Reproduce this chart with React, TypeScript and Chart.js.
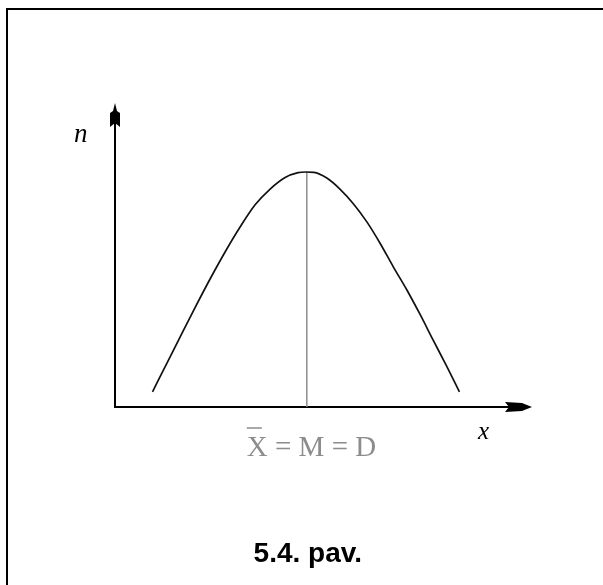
import { useEffect, useRef } from "react";
import { Chart, registerables } from "chart.js";

Chart.register(...registerables);

// Frequency curve of a symmetric distribution (x: variable value, n: frequency)
const curveX = [9.0, 12.0, 15.6, 19.2, 22.8, 26.4, 30.0, 33.6, 37.2, 40.8, 43.9, 45.8, 47.7, 50.8, 54.0, 57.2, 60.4, 63.6, 66.7, 70.0, 73.1, 76.3, 79.5, 82.6];
const curveY = [5.0, 13.2, 23.0, 32.7, 42.1, 51.0, 59.2, 66.5, 71.7, 75.5, 77.1, 77.3, 77.2, 75.3, 71.6, 66.8, 60.9, 53.8, 46.2, 38.5, 30.6, 22.0, 13.5, 5.0];

// Mean = median = mode position and its height on the curve
const centerX = [46.0, 46.0];
const centerY = [0, 77.3];

const axisRange = [0, 100];

const yLabel = "n";
const xLabel = "x";
const centerLabel = "X = M = D";
const caption = "5.4. pav.";

const decor = {
  id: "decor",
  beforeDatasetsDraw(chart: any) {
    const { ctx } = chart;
    const xs = chart.scales.x;
    const ys = chart.scales.y;
    const x0 = xs.getPixelForValue(axisRange[0]);
    const x1 = xs.getPixelForValue(axisRange[1]);
    const y0 = ys.getPixelForValue(axisRange[0]);
    const y1 = ys.getPixelForValue(axisRange[1]);
    ctx.save();
    ctx.strokeStyle = "#000";
    ctx.fillStyle = "#000";
    ctx.lineWidth = 2;
    ctx.beginPath();
    ctx.moveTo(x0 - 1, y0);
    ctx.lineTo(x1 - 12, y0);
    ctx.moveTo(x0, y0 + 1);
    ctx.lineTo(x0, y1 + 12);
    ctx.stroke();

    // arrow on the x axis
    ctx.beginPath();
    ctx.moveTo(x1, y0);
    ctx.lineTo(x1 - 10, y0 - 4);
    ctx.lineTo(x1 - 27, y0 - 5);
    ctx.lineTo(x1 - 23, y0);
    ctx.lineTo(x1 - 27, y0 + 5);
    ctx.lineTo(x1 - 10, y0 + 4);
    ctx.closePath();
    ctx.fill();

    // arrow on the y axis
    ctx.beginPath();
    ctx.moveTo(x0, y1);
    ctx.lineTo(x0 + 2, y1 + 8);
    ctx.lineTo(x0 + 5, y1 + 10);
    ctx.lineTo(x0 + 5, y1 + 24);
    ctx.lineTo(x0, y1 + 20);
    ctx.lineTo(x0 - 5, y1 + 24);
    ctx.lineTo(x0 - 5, y1 + 10);
    ctx.lineTo(x0 - 2, y1 + 8);
    ctx.closePath();
    ctx.fill();
    ctx.restore();
  },
  afterDraw(chart: any) {
    const { ctx } = chart;
    const xs = chart.scales.x;
    const ys = chart.scales.y;
    const x0 = xs.getPixelForValue(axisRange[0]);
    const x1 = xs.getPixelForValue(axisRange[1]);
    const y0 = ys.getPixelForValue(axisRange[0]);
    const y1 = ys.getPixelForValue(axisRange[1]);
    const cx = xs.getPixelForValue(centerX[0]);
    ctx.save();
    ctx.fillStyle = "#000";
    ctx.textBaseline = "alphabetic";
    ctx.font = "italic 27px 'Liberation Serif', serif";
    ctx.textAlign = "left";
    ctx.fillText(yLabel, x0 - 41, y1 + 39);
    ctx.font = "italic 25px 'Liberation Serif', serif";
    ctx.fillText(xLabel, x1 - 54, y0 + 32);

    ctx.fillStyle = "#8c8c8c";
    ctx.font = "29px 'Liberation Serif', serif";
    ctx.textAlign = "left";
    const left = cx - 60;
    ctx.fillText(centerLabel, left, y0 + 49);
    ctx.strokeStyle = "#8c8c8c";
    ctx.lineWidth = 1.5;
    ctx.beginPath();
    ctx.moveTo(left, y0 + 21);
    ctx.lineTo(left + 15, y0 + 21);
    ctx.stroke();

    ctx.fillStyle = "#000";
    ctx.font = "bold 28px 'Liberation Sans', Arial, sans-serif";
    ctx.textAlign = "center";
    ctx.fillText(caption, cx + 1, 562);
    ctx.restore();
  },
};

export default function App() {
  const ref = useRef<HTMLCanvasElement>(null);
  useEffect(() => {
    const chart = new Chart(ref.current!, {
      type: "scatter",
      data: {
        datasets: [
          {
            data: curveX.map((v, i) => ({ x: v, y: curveY[i] })),
            showLine: true,
            borderColor: "#111",
            borderWidth: 1.7,
            pointRadius: 0,
            cubicInterpolationMode: "monotone",
            clip: false,
          } as any,
          {
            data: centerX.map((v, i) => ({ x: v, y: centerY[i] })),
            showLine: true,
            borderColor: "#8c8c8c",
            borderWidth: 1.5,
            pointRadius: 0,
            clip: false,
          } as any,
        ],
      },
      options: {
        responsive: false,
        animation: false,
        devicePixelRatio: 1,
        layout: { padding: { left: 115, right: 71, top: 103, bottom: 178 } },
        scales: {
          x: { type: "linear", min: axisRange[0], max: axisRange[1], display: false },
          y: { type: "linear", min: axisRange[0], max: axisRange[1], display: false },
        },
        plugins: { legend: { display: false }, tooltip: { enabled: false } },
      },
      plugins: [decor],
    });
    return () => chart.destroy();
  }, []);
  return (
    <div style={{ position: "absolute", left: 0, top: 0, width: 603, height: 585, overflow: "hidden", background: "#fff" }}>
      <div style={{ position: "absolute", left: 6, top: 8, width: 700, height: 700, borderLeft: "2px solid #000", borderTop: "2px solid #000" }} />
      <canvas ref={ref} width={603} height={585} style={{ position: "absolute", left: 0, top: 0 }} />
    </div>
  );
}
